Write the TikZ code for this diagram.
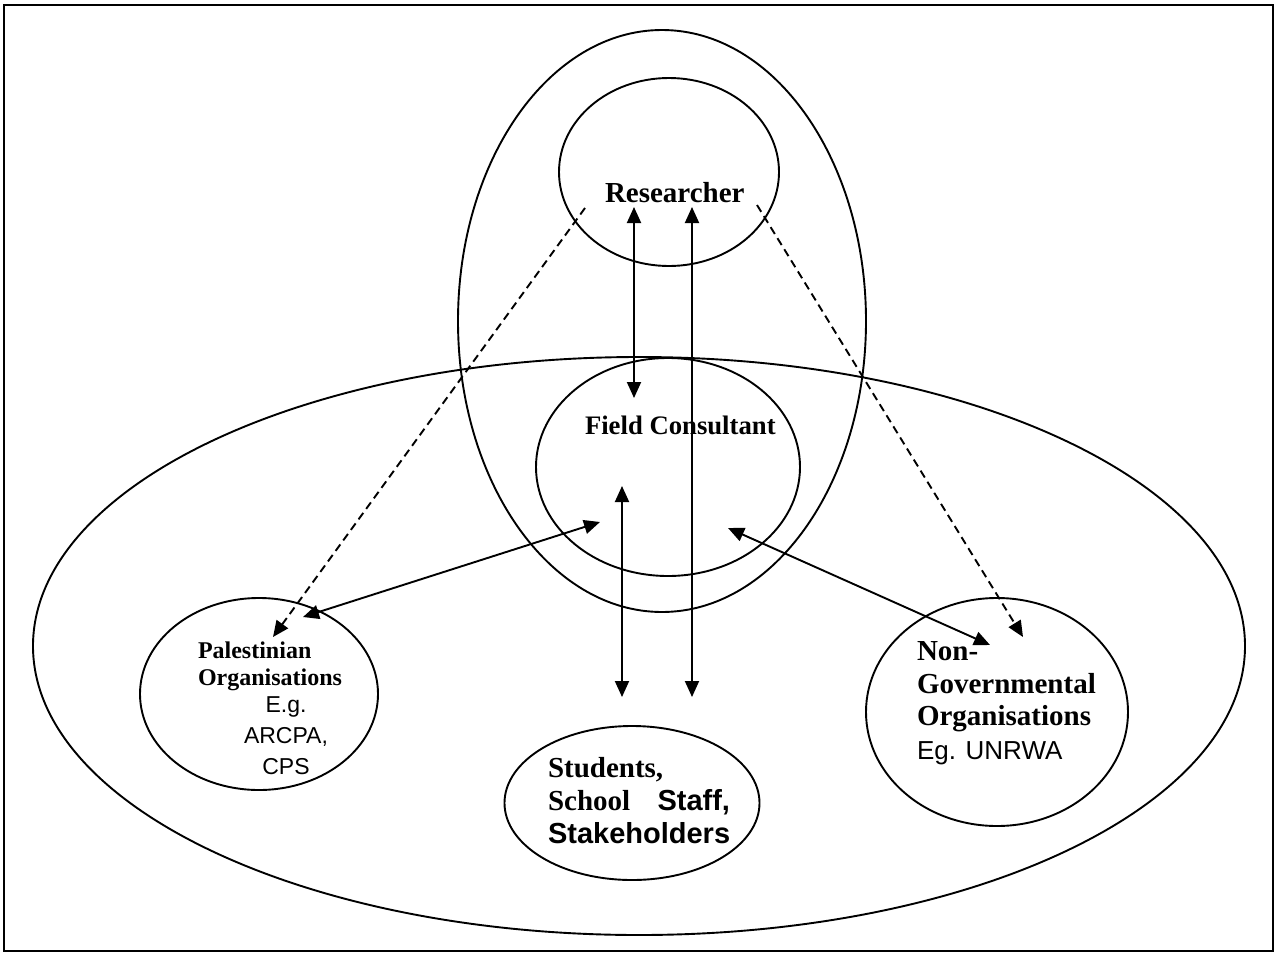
\documentclass[tikz,border=0pt]{standalone}
\usepackage{fontspec}
\setmainfont{Liberation Serif}
\newfontfamily\arialfont{Liberation Sans}
\usetikzlibrary{shapes.geometric,arrows.meta}

\begin{document}
\begin{tikzpicture}[x=1pt,y=-1pt,inner sep=0pt,outer sep=0pt,line width=1.9pt,
group/.style={draw,ellipse,inner sep=0pt},
link/.style={{Triangle[length=16pt,width=14pt]}-{Triangle[length=16pt,width=14pt]}},
contact/.style={dash pattern=on 8pt off 5pt,-{Triangle[length=16pt,width=14pt]}},
grouptext/.style={font=\fontsize{29}{33}\selectfont\bfseries,align=left}]

\useasboundingbox (0,0) rectangle (1277,956);
\draw[line width=2.6pt] (4,5) rectangle (1273,951);

\draw (639,646) node[group,minimum width=1212pt,minimum height=578pt] (field) {};
\draw (662,321) node[group,minimum width=408pt,minimum height=582pt] (team) {};
\draw (669,172) node[group,minimum width=220pt,minimum height=188pt] (res) {};
\draw (668,467) node[group,minimum width=264pt,minimum height=218pt] (fc) {};
\draw (259,694) node[group,minimum width=238pt,minimum height=192pt] (pal) {};
\draw (632,803) node[group,minimum width=255pt,minimum height=154pt] (stu) {};
\draw (997,712) node[group,minimum width=262pt,minimum height=228pt] (ngo) {};

\draw (605,202) node[anchor=base west,font=\fontsize{29}{33}\selectfont\bfseries] (restext) {Researcher};
\draw (585,434) node[anchor=base west,font=\fontsize{26.7}{30}\selectfont\bfseries] (fctext) {Field Consultant};
\draw (198,642) node[anchor=north west,font=\fontsize{24}{27}\selectfont\bfseries,align=left] (paltext) {Palestinian\\Organisations};
\draw (286,697) node[anchor=north,font=\arialfont\fontsize{23}{31}\selectfont,align=center] (palex) {E.g.\\ARCPA,\\CPS};
\draw (548,757) node[anchor=north west,grouptext,text width=182pt] (stutext) {Students,\\School\hfill{\arialfont Staff,}\\{\arialfont Stakeholders}};
\draw (917,641) node[anchor=north west,grouptext] (ngotext) {Non-\\Governmental\\Organisations\\{\arialfont\mdseries\fontsize{26}{31}\selectfont Eg. UNRWA}};

\coordinate (r1) at (634,207);
\coordinate (f1) at (634,398);
\coordinate (r2) at (692,207);
\coordinate (s2) at (692,697);
\coordinate (f3) at (622,486);
\coordinate (s3) at (622,697);
\coordinate (f4) at (600,522);
\coordinate (p4) at (303,617);
\coordinate (f5) at (728,528);
\coordinate (n5) at (990,645);
\coordinate (r6) at (585,208);
\coordinate (p6) at (273,637);
\coordinate (r7) at (757,205);
\coordinate (n7) at (1023,637);

\draw[link] (r1) -- (f1);
\draw[link] (r2) -- (s2);
\draw[link] (f3) -- (s3);
\draw[link] (f4) -- (p4);
\draw[link] (f5) -- (n5);
\draw[contact] (r6) -- (p6);
\draw[contact] (r7) -- (n7);
\end{tikzpicture}
\end{document}
